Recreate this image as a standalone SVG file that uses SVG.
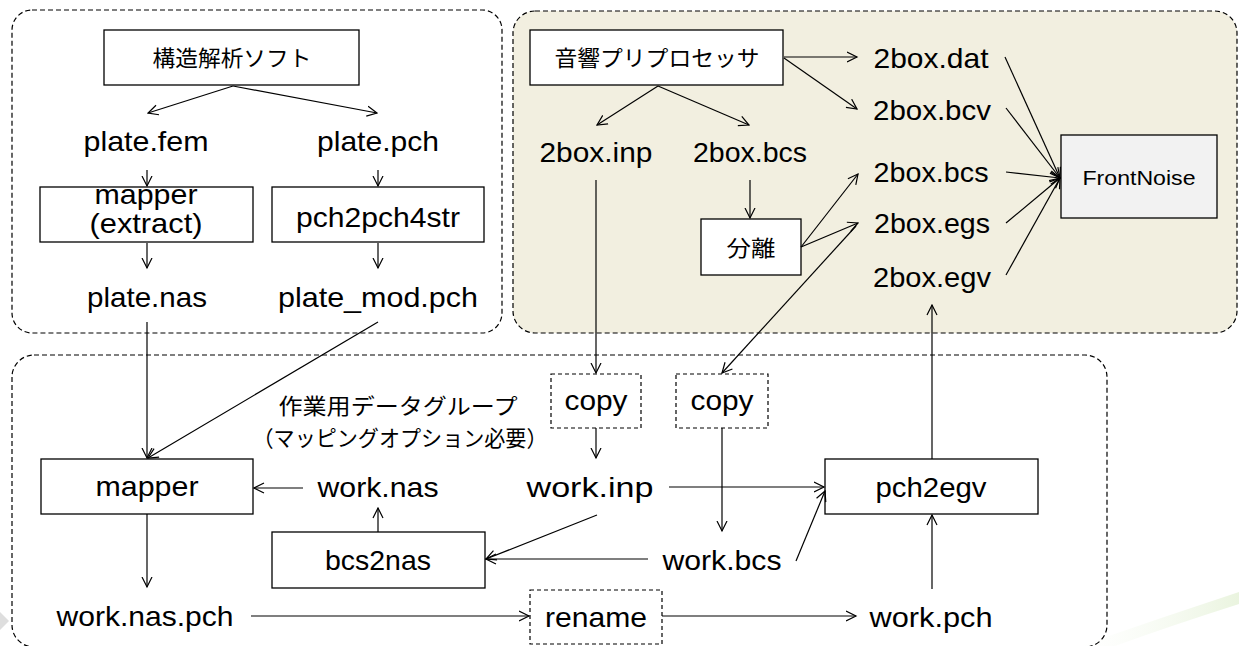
<svg xmlns="http://www.w3.org/2000/svg" width="1239" height="646" viewBox="0 0 1239 646">
<style>
.grp{fill:none;stroke:#000;stroke-width:1.2;stroke-dasharray:5 3}
.box{fill:#fff;stroke:#000;stroke-width:1.3}
.dbox{fill:none;stroke:#000;stroke-width:1.2;stroke-dasharray:4 3}
.t{font-family:"Liberation Sans",Arial,sans-serif;font-size:28px;fill:#000;text-anchor:middle}
.j{font-family:"Noto Sans CJK JP","Noto Sans CJK SC",sans-serif;font-size:22px;fill:#000;text-anchor:middle}
.c line{stroke:#000;stroke-width:1.2;marker-end:url(#ah)}
</style>
<defs>
<marker id="ah" markerUnits="userSpaceOnUse" markerWidth="12" markerHeight="12" viewBox="0 0 12 12" refX="10.5" refY="6" orient="auto">
<path d="M0.5,1 L10.5,6 L0.5,11" fill="none" stroke="#000" stroke-width="1.2"/>
</marker>
<linearGradient id="sw" x1="0" y1="0" x2="1" y2="0">
<stop offset="0" stop-color="#f6faf1" stop-opacity="0"/>
<stop offset="1" stop-color="#eaf4df"/>
</linearGradient>
</defs>
<rect width="1239" height="646" fill="#fff"/>
<path d="M1080,646 Q1160,618 1239,592 L1239,604 Q1170,626 1115,646 Z" fill="url(#sw)"/>
<polygon points="0,612 9,621 0,630" fill="#dedede"/>

<g id="group-structure"><rect class="grp" x="12" y="10" width="490" height="323" rx="20"/></g>
<g id="group-acoustic"><rect x="513" y="11" width="724" height="322" rx="22" fill="#f2efe0" stroke="#000" stroke-width="1.2" stroke-dasharray="5 3"/></g>
<g id="group-work"><rect class="grp" x="12" y="355" width="1095" height="292" rx="22"/></g>

<g id="n-kouzou"><rect class="box" x="104" y="30" width="255" height="55"/><text class="j" x="232" y="66" textLength="159" lengthAdjust="spacingAndGlyphs">構造解析ソフト</text></g>
<g id="n-platefem"><text class="t" x="146" y="151" textLength="125" lengthAdjust="spacingAndGlyphs">plate.fem</text></g>
<g id="n-platepch"><text class="t" x="378" y="151" textLength="122" lengthAdjust="spacingAndGlyphs">plate.pch</text></g>
<g id="n-mapper-extract"><rect class="box" x="40" y="187" width="213" height="55"/><text class="t" x="146" y="204" textLength="103" lengthAdjust="spacingAndGlyphs">mapper</text><text class="t" x="146" y="233" textLength="113" lengthAdjust="spacingAndGlyphs">(extract)</text></g>
<g id="n-pch2pch4str"><rect class="box" x="272" y="187" width="212" height="55"/><text class="t" x="378" y="227" textLength="164" lengthAdjust="spacingAndGlyphs">pch2pch4str</text></g>
<g id="n-platenas"><text class="t" x="147" y="307" textLength="120" lengthAdjust="spacingAndGlyphs">plate.nas</text></g>
<g id="n-platemod"><text class="t" x="378" y="307" textLength="200" lengthAdjust="spacingAndGlyphs">plate_mod.pch</text></g>

<g id="n-onkyo"><rect class="box" x="530" y="30" width="253" height="55"/><text class="j" x="657" y="66" textLength="205" lengthAdjust="spacingAndGlyphs">音響プリプロセッサ</text></g>
<g id="n-2boxdat"><text class="t" x="931" y="68" textLength="115" lengthAdjust="spacingAndGlyphs">2box.dat</text></g>
<g id="n-2boxbcv"><text class="t" x="932" y="120" textLength="118" lengthAdjust="spacingAndGlyphs">2box.bcv</text></g>
<g id="n-2boxinp"><text class="t" x="596" y="162" textLength="113" lengthAdjust="spacingAndGlyphs">2box.inp</text></g>
<g id="n-2boxbcs-a"><text class="t" x="750" y="162" textLength="114" lengthAdjust="spacingAndGlyphs">2box.bcs</text></g>
<g id="n-2boxbcs-b"><text class="t" x="931" y="182" textLength="115" lengthAdjust="spacingAndGlyphs">2box.bcs</text></g>
<g id="n-2boxegs"><text class="t" x="932" y="233" textLength="116" lengthAdjust="spacingAndGlyphs">2box.egs</text></g>
<g id="n-2boxegv"><text class="t" x="932" y="287" textLength="118" lengthAdjust="spacingAndGlyphs">2box.egv</text></g>
<g id="n-bunri"><rect class="box" x="701" y="219" width="100" height="56"/><text class="j" x="751" y="256" textLength="49" lengthAdjust="spacingAndGlyphs">分離</text></g>
<g id="n-frontnoise"><rect x="1061" y="135" width="156" height="83" fill="#f2f2f2" stroke="#000" stroke-width="1.3"/><text class="t" x="1139" y="185" style="font-size:20px" textLength="113" lengthAdjust="spacingAndGlyphs">FrontNoise</text></g>

<g id="n-label"><text class="j" x="398" y="414" textLength="239" lengthAdjust="spacingAndGlyphs">作業用データグループ</text><text class="j" x="400" y="446" textLength="295" lengthAdjust="spacingAndGlyphs">（マッピングオプション必要）</text></g>
<g id="n-copy1"><rect class="dbox" x="551" y="374" width="90" height="54"/><text class="t" x="596" y="410" textLength="63" lengthAdjust="spacingAndGlyphs">copy</text></g>
<g id="n-copy2"><rect class="dbox" x="676" y="374" width="92" height="54"/><text class="t" x="722" y="410" textLength="63" lengthAdjust="spacingAndGlyphs">copy</text></g>
<g id="n-mapper"><rect class="box" x="41" y="459" width="212" height="55"/><text class="t" x="147" y="496" textLength="103" lengthAdjust="spacingAndGlyphs">mapper</text></g>
<g id="n-worknas"><text class="t" x="378" y="497" textLength="121" lengthAdjust="spacingAndGlyphs">work.nas</text></g>
<g id="n-workinp"><text class="t" x="590" y="497" textLength="127" lengthAdjust="spacingAndGlyphs">work.inp</text></g>
<g id="n-pch2egv"><rect class="box" x="825" y="459" width="213" height="55"/><text class="t" x="931" y="497" textLength="111" lengthAdjust="spacingAndGlyphs">pch2egv</text></g>
<g id="n-bcs2nas"><rect class="box" x="272" y="532" width="213" height="56"/><text class="t" x="378" y="570" textLength="106" lengthAdjust="spacingAndGlyphs">bcs2nas</text></g>
<g id="n-workbcs"><text class="t" x="722" y="570" textLength="119" lengthAdjust="spacingAndGlyphs">work.bcs</text></g>
<g id="n-worknaspch"><text class="t" x="145" y="626" textLength="177" lengthAdjust="spacingAndGlyphs">work.nas.pch</text></g>
<g id="n-rename"><rect class="dbox" x="530" y="590" width="132" height="54"/><text class="t" x="596" y="627" textLength="102" lengthAdjust="spacingAndGlyphs">rename</text></g>
<g id="n-workpch"><text class="t" x="931" y="627" textLength="123" lengthAdjust="spacingAndGlyphs">work.pch</text></g>

<g id="connectors" class="c">
<line x1="233" y1="86" x2="148" y2="113"/>
<line x1="233" y1="86" x2="377" y2="113"/>
<line x1="147" y1="170" x2="147" y2="186"/>
<line x1="378" y1="170" x2="378" y2="186"/>
<line x1="147" y1="243" x2="147" y2="268"/>
<line x1="378" y1="243" x2="378" y2="268"/>
<line x1="147" y1="322" x2="147" y2="458"/>
<line x1="378" y1="322" x2="148" y2="458"/>
<line x1="784" y1="57" x2="857" y2="57"/>
<line x1="784" y1="58" x2="857" y2="109"/>
<line x1="658" y1="86" x2="597" y2="125"/>
<line x1="658" y1="86" x2="749" y2="125"/>
<line x1="596" y1="180" x2="596" y2="373"/>
<line x1="750" y1="180" x2="750" y2="218"/>
<line x1="801" y1="247" x2="858" y2="174"/>
<line x1="801" y1="247" x2="858" y2="223"/>
<line x1="856" y1="226" x2="722" y2="373"/>
<line x1="1005" y1="57" x2="1060" y2="178"/>
<line x1="1006" y1="108" x2="1060" y2="178"/>
<line x1="1006" y1="172" x2="1060" y2="178"/>
<line x1="1006" y1="223" x2="1060" y2="178"/>
<line x1="1006" y1="275" x2="1060" y2="178"/>
<line x1="596" y1="428" x2="596" y2="458"/>
<line x1="722" y1="428" x2="722" y2="531"/>
<line x1="303" y1="488" x2="254" y2="488"/>
<line x1="378" y1="532" x2="378" y2="508"/>
<line x1="147" y1="514" x2="147" y2="587"/>
<line x1="597" y1="515" x2="486" y2="559"/>
<line x1="648" y1="559" x2="486" y2="559"/>
<line x1="669" y1="487" x2="824" y2="487"/>
<line x1="796" y1="561" x2="825" y2="491"/>
<line x1="932" y1="589" x2="932" y2="515"/>
<line x1="932" y1="459" x2="932" y2="305"/>
<line x1="251" y1="616" x2="529" y2="616"/>
<line x1="662" y1="616" x2="856" y2="616"/>
</g>
</svg>
